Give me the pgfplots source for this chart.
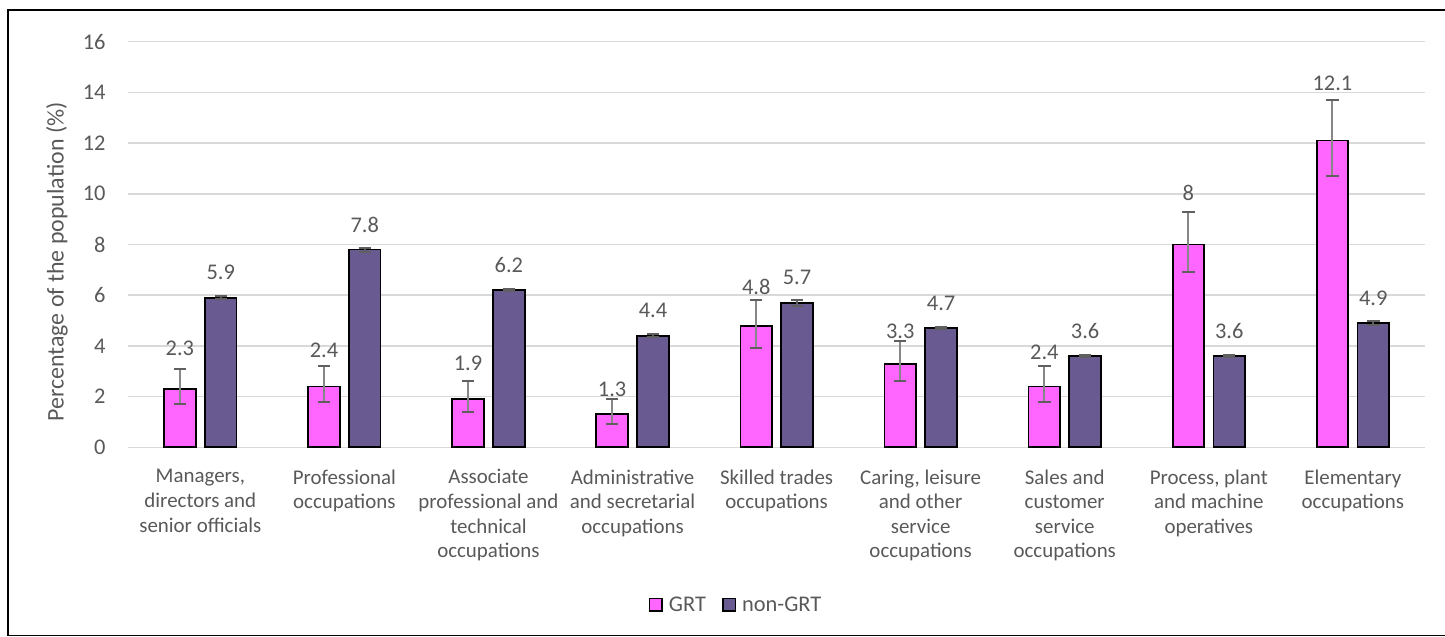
\documentclass[border=0pt]{standalone}
\usepackage{pgfplots}
\pgfplotsset{compat=1.18}
\usepackage{pgfplotstable}
\usepackage{fontspec}
\setmainfont{Carlito}
\definecolor{grtpink}{RGB}{255,102,255}
\definecolor{nonpurple}{RGB}{106,90,146}
\definecolor{txtgray}{RGB}{89,89,89}
\definecolor{gridgray}{RGB}{217,217,217}
\definecolor{errgray}{RGB}{135,135,135}
\definecolor{capgray}{RGB}{95,95,95}
\pgfplotsset{boxlegend/.style={legend image code/.code={\draw[##1, line width=1.6bp] (0bp,-6.3bp) rectangle (12.6bp,6.3bp);}}}

% x = category index -/+ half the distance between the two bars of a group
\pgfplotstableread{
x y ep em lab off
-0.1417 2.3 0.8 0.6 2.3 40.7
0.8583 2.4 0.8 0.6 2.4 36
1.8583 1.9 0.7 0.5 1.9 35.6
2.8583 1.3 0.6 0.4 1.3 25
3.8583 4.8 1.0 0.9 4.8 38.6
4.8583 3.3 0.9 0.7 3.3 32.7
5.8583 2.4 0.8 0.6 2.4 34
6.8583 8 1.3 1.1 8 52
7.8583 12.1 1.6 1.4 12.1 57
}\grt

\pgfplotstableread{
x y ep em lab off
0.1417 5.9 0.05 0.05 5.9 25
1.1417 7.8 0.08 0.08 7.8 25
2.1417 6.2 0.04 0.04 6.2 25
3.1417 4.4 0.05 0.05 4.4 25
4.1417 5.7 0.10 0.13 5.7 25
5.1417 4.7 0.05 0.05 4.7 25
6.1417 3.6 0.03 0.03 3.6 25
7.1417 3.6 0.03 0.03 3.6 25
8.1417 4.9 0.07 0.07 4.9 25
}\nongrt

\begin{document}
\begin{tikzpicture}
\useasboundingbox (0,0) rectangle (1445bp,637bp);
\draw[line width=1.3bp, black] (1500bp,1.5bp) -- (8bp,1.5bp) -- (8bp,627bp) -- (1500bp,627bp);
\begin{axis}[
  at={(128.3bp,189.7bp)}, anchor=south west,
  scale only axis, width=1296.7bp, height=405.6bp,
  xmin=-0.5, xmax=8.5, ymin=0, ymax=16,
  ytick={0,2,...,16}, xtick={0,...,8},
  xticklabels={{Managers,\\directors and\\senior officials},
    {Professional\\occupations},
    {Associate\\professional and\\technical\\occupations},
    {Administrative\\and secretarial\\occupations},
    {Skilled trades\\occupations},
    {Caring, leisure\\and other\\service\\occupations},
    {Sales and\\customer\\service\\occupations},
    {Process, plant\\and machine\\operatives},
    {Elementary\\occupations}},
  axis line style={draw=none},
  major tick length=0pt,
  ymajorgrids, grid style={gridgray, line width=1.5bp},
  /pgf/number format/assume math mode=true,
  yticklabel style={font=\fontsize{22.5}{27}\selectfont, text=txtgray, anchor=east, inner sep=0pt, xshift=-22.6bp},
  xticklabel style={font=\fontsize{21}{24.7}\selectfont, text=txtgray, align=center, anchor=north, inner sep=0pt, yshift=-22bp},
  ylabel={Percentage of the population (\%)},
  ylabel style={font=\fontsize{24}{28}\selectfont, text=txtgray, at={(axis description cs:-0.055,0.457)}, anchor=center},
  legend style={at={(0.4687,-0.3888)}, anchor=center, draw=none, fill=none,
    legend columns=-1, font=\fontsize{22.5}{27}\selectfont, text=txtgray,
    /tikz/every odd column/.append style={column sep=4bp},
    /tikz/every even column/.append style={column sep=14bp}},
  clip=false,
]
\addplot[ybar, bar width=0.219, bar shift=0pt, fill=grtpink, draw=black, line width=1.8bp,
  boxlegend,
  nodes near coords, point meta=explicit symbolic,
  visualization depends on={\thisrow{off} \as \loff},
  every node near coord/.append style={font=\fontsize{22.5}{27}\selectfont, text=txtgray, anchor=center, inner sep=0pt, yshift=\loff bp},
  error bars/.cd, y dir=both, y explicit,
  error bar style={errgray, line width=2bp},
  error mark options={rotate=90, capgray, line width=2bp, mark size=6.2bp}]
  table[x=x, y=y, y error plus=ep, y error minus=em, meta=lab] {\grt};
\addlegendentry{GRT}
\addplot[ybar, bar width=0.219, bar shift=0pt, fill=nonpurple, draw=black, line width=1.8bp,
  boxlegend,
  nodes near coords, point meta=explicit symbolic,
  visualization depends on={\thisrow{off} \as \loff},
  every node near coord/.append style={font=\fontsize{22.5}{27}\selectfont, text=txtgray, anchor=center, inner sep=0pt, yshift=\loff bp},
  error bars/.cd, y dir=both, y explicit,
  error bar style={capgray, line width=2bp},
  error mark options={rotate=90, capgray, line width=2bp, mark size=6.2bp}]
  table[x=x, y=y, y error plus=ep, y error minus=em, meta=lab] {\nongrt};
\addlegendentry{non-GRT}
\end{axis}
\end{tikzpicture}
\end{document}
